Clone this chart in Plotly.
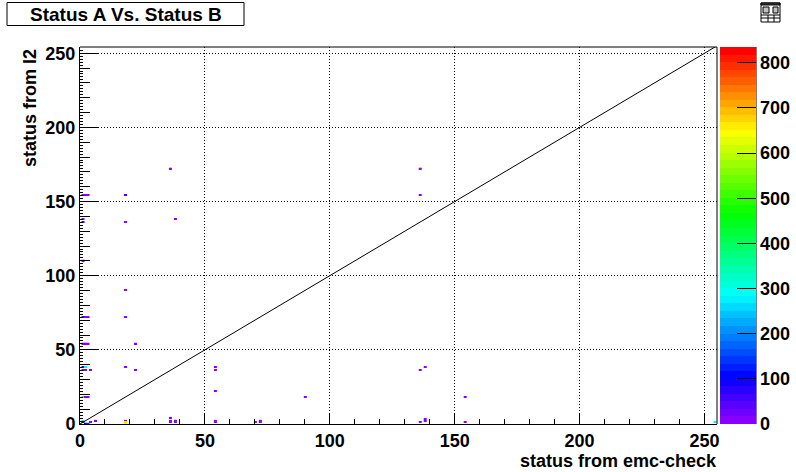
import colorsys
import plotly.graph_objects as go

title_text = "Status A Vs. Status B"
x_title = "status from emc-check"
y_title = "status from I2"
axis_ticks = [0, 50, 100, 150, 200, 250]
bar_ticks = [0, 100, 200, 300, 400, 500, 600, 700, 800]
diag_x = [0, 255]
diag_y = [0, 255]

bin_x = [1, 2, 3, 1, 4, 6, 18, 18, 18, 254,
         1, 2, 3, 1, 2, 4, 22, 1, 2, 3, 18,
         1, 2, 22, 1, 2, 3, 18, 18, 1, 1, 1, 18, 38, 36,
         1, 2, 3, 18, 136, 136,
         36, 36, 36, 38, 38, 54, 54, 54, 54, 54, 90, 72, 72, 70,
         136, 138, 136, 138, 138, 154, 154]
bin_y = [2, 0, 0, 1, 1, 2, 2, 1, 0, 1,
         18, 18, 18, 38, 38, 36, 36, 54, 54, 54, 38,
         36, 36, 54, 72, 72, 72, 72, 90, 110, 136, 138, 136, 138, 172,
         154, 154, 154, 154, 172, 154,
         4, 1, 2, 1, 2, 1, 2, 22, 36, 38, 18, 1, 2, 1,
         36, 38, 1, 3, 2, 18, 1]
bin_z = [280, 100, 150, 60, 15, 15, 15, 680, 640, 280,
         500, 15, 15, 60, 280, 15, 15, 15, 15, 15, 15,
         15, 15, 15, 60, 15, 15, 15, 15, 15, 60, 15, 15, 15, 15,
         15, 15, 15, 60, 15, 15,
         15, 15, 15, 15, 15, 15, 15, 15, 15, 15, 15, 15, 15, 15,
         15, 15, 15, 15, 15, 15, 15]

FONT = "Liberation Sans"
Z_MAX = 835
LEVELS = 50

scale = []
for i in range(LEVELS):
    hue = (272 - 272 * i / (LEVELS - 1)) / 360
    r, g, b = colorsys.hsv_to_rgb(hue, 1, 1)
    col = f"rgb({round(r*255)},{round(g*255)},{round(b*255)})"
    scale.append([i / LEVELS, col])
    scale.append([(i + 1) / LEVELS, col])


def px_x(v):
    return (v - 80) / 637


def px_y(v):
    return 1 + (47 - v) / 377


fig = go.Figure()
fig.add_trace(go.Bar(
    x=bin_x, y=[1] * len(bin_x), base=[v - 0.2 for v in bin_y], width=1.2, offset=-0.4,
    marker=dict(color=bin_z, coloraxis="coloraxis", line=dict(width=0)),
    showlegend=False, customdata=bin_z, hovertemplate="%{x}: %{customdata}<extra></extra>",
))
fig.add_trace(go.Scatter(x=diag_x, y=diag_y, mode="lines",
                         line=dict(color="black", width=1), showlegend=False,
                         hoverinfo="skip"))
fig.add_trace(go.Scatter(x=diag_x, y=diag_y, yaxis="y2", mode="lines",
                         line=dict(color="rgba(0,0,0,0)", width=0), showlegend=False,
                         hoverinfo="skip"))


def line_shape(x0, y0, x1, y1):
    return dict(type="line", xref="paper", yref="paper",
                x0=px_x(x0), x1=px_x(x1), y0=px_y(y0), y1=px_y(y1),
                line=dict(color="black", width=1))


def rect_shape(x0, y0, x1, y1, fill):
    return dict(type="rect", xref="paper", yref="paper",
                x0=px_x(x0), x1=px_x(x1), y0=px_y(y0), y1=px_y(y1),
                line=dict(color="black", width=1), fillcolor=fill)


fig.update_layout(
    width=796, height=472, autosize=False,
    margin=dict(l=80, r=79, t=47, b=48, autoexpand=False),
    paper_bgcolor="white", plot_bgcolor="white",
    showlegend=False, barmode="overlay",
    coloraxis=dict(
        cmin=0, cmax=Z_MAX, colorscale=scale,
        colorbar=dict(
            x=1.0047, xanchor="left", xpad=0, thickness=36, thicknessmode="pixels",
            y=0, yanchor="bottom", ypad=0, len=1, lenmode="fraction",
            outlinewidth=0, tickmode="array", tickvals=bar_ticks,
            ticks="inside", ticklen=19, tickwidth=1, tickcolor="black",
            tickfont=dict(family=FONT, size=18, color="black", weight="bold"),
        ),
    ),
    xaxis=dict(
        range=[0, 255], tickmode="array", tickvals=axis_ticks, automargin=False,
        ticks="inside", ticklen=11, tickwidth=1, tickcolor="black",
        showline=True, linewidth=1, linecolor="black",
        showgrid=True, gridcolor="black", gridwidth=1, griddash="1px,2px",
        zeroline=False,
        tickfont=dict(family=FONT, size=18, color="black", weight="bold"),
        minor=dict(dtick=10, tick0=0, ticks="inside", ticklen=5, tickwidth=1,
                   tickcolor="black", showgrid=False),
    ),
    yaxis=dict(
        range=[0, 254.2], tickmode="array", tickvals=axis_ticks, automargin=False,
        ticks="inside", ticklen=19, tickwidth=1, tickcolor="black",
        showline=True, linewidth=1, linecolor="black",
        showgrid=True, gridcolor="black", gridwidth=1, griddash="1px,2px",
        zeroline=False,
        tickfont=dict(family=FONT, size=18, color="black", weight="bold"),
        minor=dict(dtick=2, tick0=0, ticks="inside", ticklen=3, tickwidth=1,
                   tickcolor="black", showgrid=False),
    ),
    yaxis2=dict(
        overlaying="y", side="left", anchor="x", range=[0, 254.2],
        dtick=10, tick0=0, ticks="inside", ticklen=10, tickwidth=1, tickcolor="black",
        showticklabels=False, showgrid=False, zeroline=False, showline=False,
    ),
    annotations=[
        dict(text=f"<b>{title_text}</b>", xref="paper", yref="paper",
             x=px_x(125.5), y=px_y(14), xanchor="center", yanchor="middle",
             showarrow=False, font=dict(family=FONT, size=19, color="black")),
        dict(text=f"<b>{x_title}</b>", xref="paper", yref="paper",
             x=px_x(719), y=px_y(461), xanchor="right", yanchor="middle",
             showarrow=False, font=dict(family=FONT, size=18, color="black")),
        dict(text=f"<b>{y_title}</b>", xref="paper", yref="paper",
             x=px_x(30), y=1, xanchor="center", yanchor="top", textangle=-90,
             showarrow=False, font=dict(family=FONT, size=18, color="black")),
    ],
    shapes=[
        rect_shape(7, 2.5, 244, 25.5, "rgba(0,0,0,0)"),
        line_shape(80, 47, 717, 47),
        line_shape(717, 47, 717, 424),
        line_shape(756, 47, 756, 424),
        # canvas icon
        rect_shape(761, 3, 780, 22, "white"),
        rect_shape(761, 3, 780, 5, "#404040"),
        rect_shape(763, 7, 769, 13, "#c0c0c0"),
        rect_shape(773, 7, 778, 13, "#c0c0c0"),
        line_shape(761, 15, 780, 15),
        line_shape(761, 18, 780, 18),
        line_shape(768, 15, 768, 22),
        line_shape(774, 15, 774, 22),
    ],
)
fig.write_html("out.html", config=dict(displayModeBar=False),
               post_script="document.body.style.margin='0';document.documentElement.style.overflow='hidden';")
